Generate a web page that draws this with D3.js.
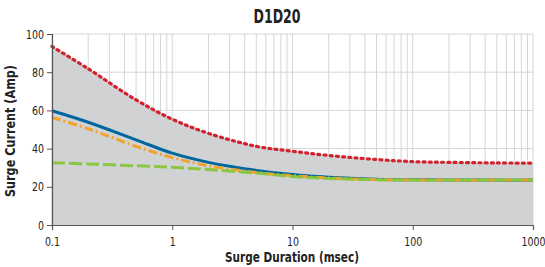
<!DOCTYPE html>
<html>
<head>
<meta charset="utf-8">
<script src="https://cdn.jsdelivr.net/npm/d3@7"></script>
<style>
  body { margin: 0; background: #fff; }
  text { font-family: "Liberation Sans Narrow", "DejaVu Sans Condensed", "DejaVu Sans", sans-serif; font-stretch: condensed; }
</style>
</head>
<body>
<svg id="chart" width="545" height="267"></svg>
<script>
// surge duration (msec) sample points
var durations = [0.1, 0.2, 0.5, 1, 2, 5, 10, 20, 50, 100, 200, 500, 1000]
// surge current (Amp) for each curve
var redVals = [93.5, 81.8, 65.5, 55.4, 48, 41.2, 38.6, 36.4, 34.3, 33.2, 32.8, 32.5, 32.4]
var blueVals = [59.8, 53.8, 44.6, 37.6, 32.8, 28.6, 26.4, 25, 24, 23.7, 23.6, 23.5, 23.5]
var orangeVals = [56.3, 50.4, 41.2, 35.3, 31, 27.5, 25.8, 24.6, 23.8, 23.6, 23.5, 23.5, 23.5]
var greenVals = [32.6, 32, 31, 30.2, 29, 27.2, 25.4, 24.4, 23.7, 23.5, 23.5, 23.5, 23.5]
var xTicks = [0.1, 1, 10, 100, 1000]
var yTicks = [0, 20, 40, 60, 80, 100]

var svg = d3.select('#chart')
var mLeft = 52, mRight = 533, mTop = 34, mBottom = 225

var x = d3.scaleLog().domain([0.1, 1000]).range([mLeft, mRight])
var y = d3.scaleLinear().domain([0, 100]).range([mBottom, mTop])

// minor grid values
var minor = []
for (var e = -1; e < 3; e++) {
  for (var m = 1; m <= 9; m++) minor.push(m * Math.pow(10, e))
}
minor.push(1000)

var grid = svg.append('g')
grid.selectAll('line.vg')
  .data(minor)
  .enter().append('line')
  .attr('x1', function (d) { return x(d) })
  .attr('x2', function (d) { return x(d) })
  .attr('y1', mTop)
  .attr('y2', mBottom)
  .attr('stroke', '#d6d6d6')
  .attr('stroke-width', 1)
grid.selectAll('line.hg')
  .data(yTicks.slice(1))
  .enter().append('line')
  .attr('x1', mLeft)
  .attr('x2', mRight)
  .attr('y1', function (d) { return y(d) })
  .attr('y2', function (d) { return y(d) })
  .attr('stroke', '#d6d6d6')
  .attr('stroke-width', 1)

function pts(vals) {
  return durations.map(function (d, i) { return [d, vals[i]] })
}

var area = d3.area()
  .x(function (d) { return x(d[0]) })
  .y0(y(0))
  .y1(function (d) { return y(d[1]) })
  .curve(d3.curveCatmullRom)

svg.append('path')
  .datum(pts(redVals))
  .attr('d', area)
  .attr('fill', '#d1d2d4')

var line = d3.line()
  .x(function (d) { return x(d[0]) })
  .y(function (d) { return y(d[1]) })
  .curve(d3.curveCatmullRom)

var series = [
  { vals: blueVals, color: '#00679e', dash: null, cap: 'butt' },
  { vals: orangeVals, color: '#f0a229', dash: '9,3,2,3', cap: 'butt' },
  { vals: greenVals, color: '#8cc63f', dash: '13,4', cap: 'butt' },
  { vals: redVals, color: '#d2222d', dash: '2,4.2', cap: 'round' }
]

svg.selectAll('path.curve')
  .data(series)
  .enter().append('path')
  .attr('class', 'curve')
  .attr('d', function (d) { return line(pts(d.vals)) })
  .attr('fill', 'none')
  .attr('stroke', function (d) { return d.color })
  .attr('stroke-width', function (d) { return d.cap === 'round' ? 3.2 : 3 })
  .attr('stroke-dasharray', function (d) { return d.dash })
  .attr('stroke-linecap', function (d) { return d.cap })

// axes
var xAxis = svg.append('g')
  .attr('transform', 'translate(0,' + mBottom + ')')
  .call(d3.axisBottom(x).tickValues(xTicks).tickSize(5).tickFormat(function (d) { return String(d) }))
var yAxis = svg.append('g')
  .attr('transform', 'translate(' + mLeft + ',0)')
  .call(d3.axisLeft(y).tickValues(yTicks).tickSize(5))

;[xAxis, yAxis].forEach(function (a) {
  a.select('.domain').attr('stroke', '#555').attr('stroke-width', 1.2)
  a.selectAll('.tick line').attr('stroke', '#555')
  a.selectAll('.tick text')
    .attr('fill', '#222')
    .style('font-size', '13px')
    .style('font-family', '"Liberation Sans Narrow", "DejaVu Sans Condensed", sans-serif')
    .style('font-stretch', 'condensed')
    .attr('textLength', function (d) {
      var s = String(d)
      return s.replace('.', '').length * 6 + (s.indexOf('.') >= 0 ? 3 : 0)
    })
    .attr('lengthAdjust', 'spacingAndGlyphs')
})
xAxis.selectAll('.tick text').attr('dy', '1.0em')
xAxis.selectAll('.tick text').filter(function (d) { return d === 1000 }).attr('text-anchor', 'end').attr('dx', 12)
yAxis.selectAll('.tick text').attr('x', -8)

svg.append('text')
  .attr('x', 277)
  .attr('y', 23)
  .attr('text-anchor', 'middle')
  .attr('font-weight', 'bold')
  .attr('font-size', '19px')
  .attr('fill', '#222')
  .attr('textLength', 47)
  .attr('lengthAdjust', 'spacingAndGlyphs')
  .text('D1D20')

svg.append('text')
  .attr('x', 292)
  .attr('y', 262)
  .attr('text-anchor', 'middle')
  .attr('font-weight', 'bold')
  .attr('font-size', '14.5px')
  .attr('fill', '#222')
  .attr('textLength', 134)
  .attr('lengthAdjust', 'spacingAndGlyphs')
  .text('Surge Duration (msec)')

svg.append('text')
  .attr('transform', 'translate(15,' + 131 + ') rotate(-90)')
  .attr('text-anchor', 'middle')
  .attr('font-weight', 'bold')
  .attr('font-size', '14.5px')
  .attr('fill', '#222')
  .attr('textLength', 132)
  .attr('lengthAdjust', 'spacingAndGlyphs')
  .text('Surge Current (Amp)')
</script>
</body>
</html>
